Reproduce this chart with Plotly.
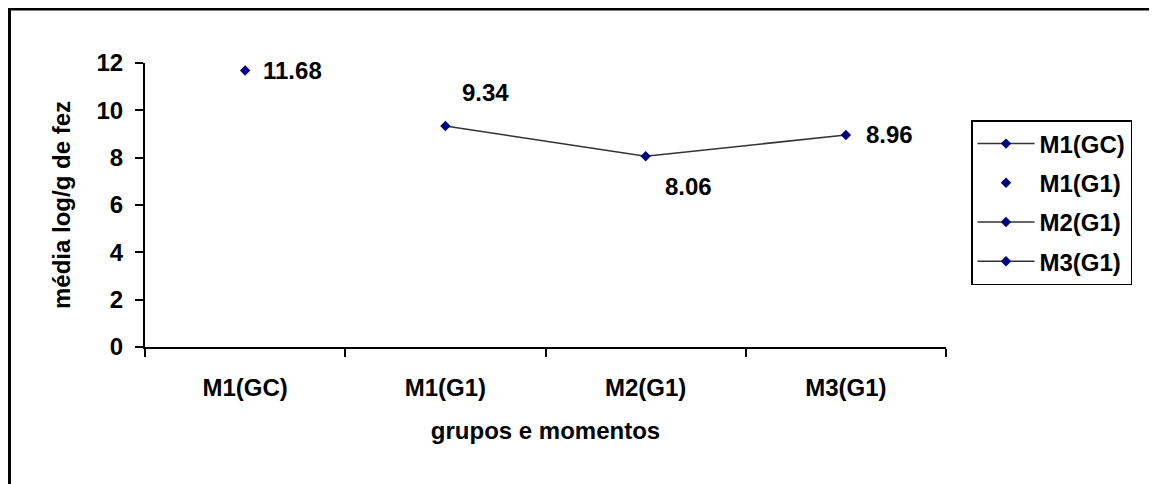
import plotly.graph_objects as go

categories = ["M1(GC)", "M1(G1)", "M2(G1)", "M3(G1)"]
values = [11.68, 9.34, 8.06, 8.96]
legend_modes = ["lines+markers", "markers", "lines+markers", "lines+markers"]
label_shift_x = [16, 15, 17, 18]
label_shift_y = [0, 33, -30, 0]
y_ticks = [0, 2, 4, 6, 8, 10, 12]

FONT = "Liberation Sans, Arial, sans-serif"
FS = 24
MARKER_COLOR = "#000080"
LINE_COLOR = "#333333"

fig = go.Figure()

# connecting line for the G1 series
fig.add_trace(go.Scatter(
    x=categories[1:], y=values[1:], mode="lines",
    line=dict(color=LINE_COLOR, width=1.5),
    showlegend=False, hoverinfo="skip",
))

for i, (cat, val, mode) in enumerate(zip(categories, values, legend_modes)):
    fig.add_trace(go.Scatter(
        x=[cat], y=[val], mode=mode, name=cat,
        legendgroup=cat,
        marker=dict(symbol="diamond", size=8, color=MARKER_COLOR),
        line=dict(color=LINE_COLOR, width=1.5),
    ))

annotations = []
for cat, val, sx, sy in zip(categories, values, label_shift_x, label_shift_y):
    annotations.append(dict(
        x=cat, y=val, xref="x", yref="y", text=f"{val:.2f}",
        showarrow=False, xanchor="left", yanchor="middle",
        xshift=sx, yshift=sy,
        font=dict(family=FONT, size=FS, color="black", weight="bold"),
    ))

# page body has an 8px margin, so figure origin is at (8, 8) on the page
OFF = 8
W, H = 1157 - OFF, 484 - OFF
L, T = 145 - OFF, 63 - OFF
pw, ph = 801, 284
R = W - L - pw
B = H - T - ph

def px_x(page_x):
    return (page_x - OFF - L) / pw

def px_y(page_y):
    return (H - B - (page_y - OFF)) / ph

fig.update_layout(
    width=W, height=H,
    margin=dict(l=L, r=R, t=T, b=B),
    paper_bgcolor="white", plot_bgcolor="white",
    font=dict(family=FONT, size=FS, color="black", weight="bold"),
    annotations=annotations,
    legend=dict(
        x=px_x(971), y=px_y(120), xanchor="left", yanchor="top",
        bordercolor="black", borderwidth=1.5, bgcolor="white",
        font=dict(family=FONT, size=FS, color="black", weight="bold"),
        traceorder="grouped", tracegroupgap=5, itemwidth=57,
    ),
    shapes=[dict(
        type="rect", xref="paper", yref="paper",
        x0=px_x(9.5), x1=px_x(1190),
        y0=px_y(530), y1=px_y(9),
        line=dict(color="black", width=3), layer="below",
    )],
    xaxis=dict(
        type="category", categoryarray=categories, range=[-0.5, 3.5],
        showline=True, linecolor="black", linewidth=2,
        ticks="outside", tickson="boundaries", ticklen=8, tickwidth=1.5, tickcolor="black",
        showgrid=False, zeroline=False, ticklabelstandoff=18,
        title=dict(text="grupos e momentos", standoff=22,
                   font=dict(family=FONT, size=FS, weight="bold")),
    ),
    yaxis=dict(
        range=[0, 12], tickvals=y_ticks,
        showline=True, linecolor="black", linewidth=2,
        ticks="outside", ticklen=8, tickwidth=1.5, tickcolor="black",
        showgrid=False, zeroline=False, ticklabelstandoff=7,
        title=dict(text="média log/g de fez", standoff=19,
                   font=dict(family=FONT, size=FS, weight="bold")),
    ),
)

fig.write_html("out.html")
